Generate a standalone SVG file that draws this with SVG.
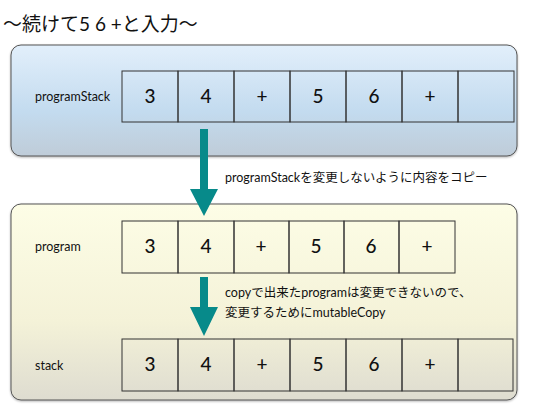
<svg xmlns="http://www.w3.org/2000/svg" width="550" height="413" viewBox="0 0 550 413">
<defs>
<linearGradient id="gBlue" x1="0" y1="0" x2="0" y2="1">
<stop offset="0" stop-color="#e2effb"/>
<stop offset="0.6" stop-color="#c3dbef"/>
<stop offset="1" stop-color="#bfccd8"/>
</linearGradient>
<linearGradient id="gYellow" x1="0" y1="0" x2="0" y2="1">
<stop offset="0" stop-color="#fdfde6"/>
<stop offset="0.6" stop-color="#f4f2d8"/>
<stop offset="1" stop-color="#dedcd0"/>
</linearGradient>
<filter id="sh" x="-5%" y="-5%" width="110%" height="115%">
<feDropShadow dx="0" dy="1" stdDeviation="0.8" flood-color="#000" flood-opacity="0.3"/>
</filter>
</defs>
<style>
.panel{stroke:#555;stroke-width:1}
.cell{fill:none;stroke:#333;stroke-width:1}
.num{font-family:"Lato","Noto Sans CJK JP",sans-serif;font-size:19px;fill:#111;text-anchor:middle;font-weight:500}
.lbl{font-family:"Lato","Noto Sans CJK JP",sans-serif;font-size:12.5px;fill:#111}
.note{font-family:"Lato","Noto Sans CJK JP",sans-serif;font-size:12.5px;fill:#111}
.title{font-family:"Lato","Noto Sans CJK JP",sans-serif;font-size:19px;fill:#111}
.arrow{fill:#078a8a}
</style>
<text class="title" x="3" y="31">〜続けて5 6 +と入力〜</text>

<g id="panelTop">
<rect class="panel" x="11" y="45" width="506" height="111" rx="10" fill="url(#gBlue)" filter="url(#sh)"/>
</g>
<g id="panelBottom">
<rect class="panel" x="11" y="204" width="506" height="196" rx="10" fill="url(#gYellow)" filter="url(#sh)"/>
</g>

<g id="programStack">
<text class="lbl" x="35" y="101">programStack</text>
<rect class="cell" x="122" y="71" width="56" height="51"/>
<rect class="cell" x="178" y="71" width="56" height="51"/>
<rect class="cell" x="234" y="71" width="56" height="51"/>
<rect class="cell" x="290" y="71" width="56" height="51"/>
<rect class="cell" x="346" y="71" width="56" height="51"/>
<rect class="cell" x="402" y="71" width="56" height="51"/>
<rect class="cell" x="458" y="71" width="56" height="51"/>
<text class="num" x="150" y="103">3</text>
<text class="num" x="206" y="103">4</text>
<text class="num" x="262" y="103">+</text>
<text class="num" x="318" y="103">5</text>
<text class="num" x="374" y="103">6</text>
<text class="num" x="430" y="103">+</text>
</g>

<g id="program">
<text class="lbl" x="35" y="251">program</text>
<rect class="cell" x="122" y="221" width="56" height="52"/>
<rect class="cell" x="178" y="221" width="56" height="52"/>
<rect class="cell" x="234" y="221" width="55" height="52"/>
<rect class="cell" x="289" y="221" width="55" height="52"/>
<rect class="cell" x="344" y="221" width="55" height="52"/>
<rect class="cell" x="399" y="221" width="56" height="52"/>
<text class="num" x="150" y="253">3</text>
<text class="num" x="206" y="253">4</text>
<text class="num" x="261" y="253">+</text>
<text class="num" x="316" y="253">5</text>
<text class="num" x="371" y="253">6</text>
<text class="num" x="427" y="253">+</text>
</g>

<g id="stack">
<text class="lbl" x="35" y="370">stack</text>
<rect class="cell" x="122" y="339" width="56" height="52"/>
<rect class="cell" x="178" y="339" width="56" height="52"/>
<rect class="cell" x="234" y="339" width="56" height="52"/>
<rect class="cell" x="290" y="339" width="56" height="52"/>
<rect class="cell" x="346" y="339" width="56" height="52"/>
<rect class="cell" x="402" y="339" width="56" height="52"/>
<rect class="cell" x="458" y="339" width="55" height="52"/>
<text class="num" x="150" y="371">3</text>
<text class="num" x="206" y="371">4</text>
<text class="num" x="262" y="371">+</text>
<text class="num" x="318" y="371">5</text>
<text class="num" x="374" y="371">6</text>
<text class="num" x="430" y="371">+</text>
</g>

<g id="connectors">
<path class="arrow" d="M200,129 H208 V189 H218 L204,216 L190,189 H200 Z"/>
<path class="arrow" d="M200,277 H208 V307 H218 L204,336 L190,307 H200 Z"/>
<text class="note" x="225" y="182">programStackを変更しないように内容をコピー</text>
<text class="note" x="225" y="297">copyで出来たprogramは変更できないので、</text>
<text class="note" x="225" y="317">変更するためにmutableCopy</text>
</g>
</svg>
